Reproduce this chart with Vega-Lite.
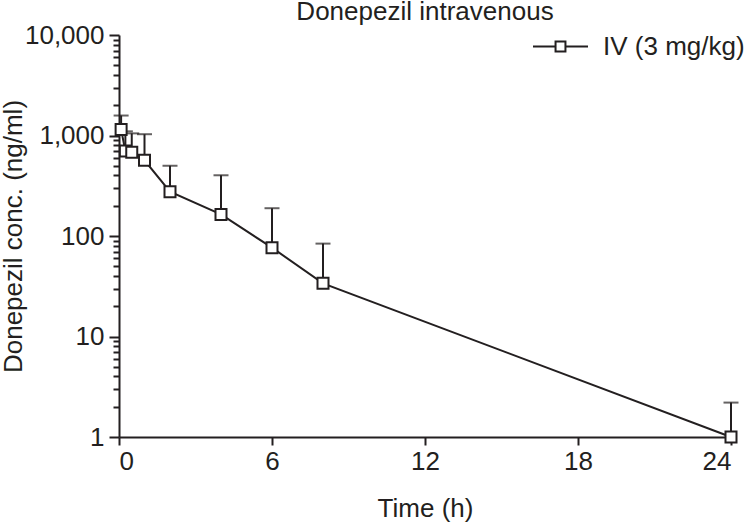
{
  "$schema": "https://vega.github.io/schema/vega-lite/v6.json",
  "width": 612,
  "height": 402,
  "autosize": {"type": "none"},
  "padding": {"left": 119, "top": 35, "right": 16, "bottom": 89},
  "background": "white",
  "config": {
    "font": "Liberation Sans",
    "view": {"stroke": null},
    "axis": {"grid": false, "domainColor": "#231f20", "tickColor": "#231f20", "labelColor": "#231f20", "titleColor": "#231f20", "domainWidth": 2, "tickWidth": 2, "labelFontSize": 26, "titleFontSize": 26, "titleFontWeight": "normal"}
  },
  "title": {"text": "Donepezil intravenous", "fontSize": 26, "fontWeight": "normal", "color": "#231f20", "anchor": "middle", "offset": -7},
  "data": {
    "values": [
      {"time": 0.083, "conc": 1150, "upper": 1580, "group": "IV (3 mg/kg)"},
      {"time": 0.25, "conc": 700, "upper": 1100, "group": "IV (3 mg/kg)"},
      {"time": 0.5, "conc": 680, "upper": 1050, "group": "IV (3 mg/kg)"},
      {"time": 1, "conc": 567, "upper": 1030, "group": "IV (3 mg/kg)"},
      {"time": 2, "conc": 276, "upper": 500, "group": "IV (3 mg/kg)"},
      {"time": 4, "conc": 164, "upper": 402, "group": "IV (3 mg/kg)"},
      {"time": 6, "conc": 76.5, "upper": 189, "group": "IV (3 mg/kg)"},
      {"time": 8, "conc": 33.8, "upper": 84, "group": "IV (3 mg/kg)"},
      {"time": 24, "conc": 1.0, "upper": 2.2, "group": "IV (3 mg/kg)"}
    ]
  },
  "resolve": {"axis": {"y": "independent"}},
  "layer": [
    {
      "mark": {"type": "rule", "color": "#231f20", "strokeWidth": 2},
      "encoding": {
        "x": {"field": "time", "type": "quantitative", "scale": {"domain": [0, 24], "nice": false, "zero": false},
              "axis": {"values": [0, 6, 12, 18, 24], "tickSize": 8, "labelPadding": 3, "title": "Time (h)", "titlePadding": 21}},
        "y": {"field": "conc", "type": "quantitative", "scale": {"type": "log", "domain": [1, 10000], "nice": false},
              "axis": {"orient": "left", "values": [1, 10, 100, 1000, 10000], "format": ",d", "tickSize": 10, "labelPadding": 5, "title": "Donepezil conc. (ng/ml)", "titlePadding": -2}},
        "y2": {"field": "upper"}
      }
    },
    {
      "mark": {"type": "tick", "orient": "horizontal", "color": "#231f20", "thickness": 2, "size": 15},
      "encoding": {
        "x": {"field": "time", "type": "quantitative"},
        "y": {"field": "upper", "type": "quantitative",
              "axis": {"orient": "left", "values": [2,3,4,5,6,7,8,9,20,30,40,50,60,70,80,90,200,300,400,500,600,700,800,900,2000,3000,4000,5000,6000,7000,8000,9000], "labels": false, "domain": false, "tickSize": 6, "title": null}}
      }
    },
    {
      "mark": {"type": "line", "color": "#231f20", "strokeWidth": 2},
      "encoding": {
        "x": {"field": "time", "type": "quantitative"},
        "y": {"field": "conc", "type": "quantitative", "axis": null}
      }
    },
    {
      "mark": {"type": "point", "shape": "square", "filled": false, "fill": "white", "fillOpacity": 1, "opacity": 1, "strokeWidth": 2, "size": 121},
      "encoding": {
        "x": {"field": "time", "type": "quantitative"},
        "y": {"field": "conc", "type": "quantitative", "axis": null},
        "color": {"field": "group", "type": "nominal", "scale": {"range": ["#231f20"]},
                  "legend": {"title": null, "orient": "none", "legendX": 413, "legendY": -17, "symbolType": "M-1,0H-0.18M0.18,0H1M-0.18,-0.18H0.18V0.18H-0.18Z", "symbolSize": 3025, "symbolStrokeWidth": 2, "symbolFillColor": "white", "symbolStrokeColor": "#231f20", "labelFontSize": 26, "labelColor": "#231f20", "labelOffset": 14,
                             "encode": {"symbols": {"update": {"fill": {"value": "white"}, "stroke": {"value": "#231f20"}, "opacity": {"value": 1}}}}}}
      }
    }
  ]
}
